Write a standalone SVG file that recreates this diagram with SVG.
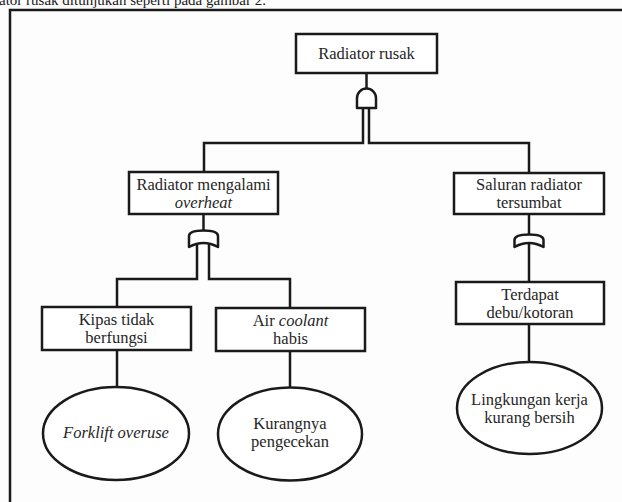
<svg xmlns="http://www.w3.org/2000/svg" width="622" height="502" viewBox="0 0 622 502">
<style>
  .bg{fill:#fdfdfd}
  .ln{fill:none;stroke:#1a1a1a;stroke-width:2.5}
  .box{fill:#ffffff;stroke:#1a1a1a;stroke-width:2.5}
  .gate{fill:#ffffff;stroke:#1a1a1a;stroke-width:2.5;stroke-linejoin:round}
  text{font-family:'Liberation Serif','Times New Roman',Times,'DejaVu Serif',serif}
  .t{font-size:16.5px;fill:#262626;text-anchor:middle}
  .i{font-style:italic}
  .doc{font-size:15px;fill:#1a1a1a}
</style>
<rect class="bg" x="0" y="0" width="622" height="502"/>
<text class="doc" x="-1" y="5" font-family="Liberation Serif, serif">ator rusak ditunjukan seperti pada gambar 2.</text>
<path class="ln" d="M10,502 V10 H622"/>

<g id="connectors">
  <path class="ln" d="M366.5,73 V90"/>
  <path class="ln" d="M363,107 V143 H204 V172"/>
  <path class="ln" d="M369,107 V143 H529 V173"/>
  <path class="ln" d="M203.5,214 V231"/>
  <path class="ln" d="M197,244 V279 H117 V307"/>
  <path class="ln" d="M209,244 V279 H290 V308"/>
  <path class="ln" d="M529,214 V235"/>
  <path class="ln" d="M529,244 V282"/>
  <path class="ln" d="M117,350 V387"/>
  <path class="ln" d="M290,351 V387"/>
  <path class="ln" d="M529,324 V362"/>
</g>

<g id="gate-and-top">
  <path class="gate" d="M357,108 V98 A9.5,9.5 0 0 1 376,98 V108 Z"/>
</g>
<g id="gate-or-left">
  <path class="gate" d="M189,247 V236 Q189,230.5 203.5,230.5 Q218,230.5 218,236 V247 Q203.5,239 189,247 Z"/>
</g>
<g id="gate-or-right">
  <path class="gate" d="M514.5,247 V240 Q514.5,234.5 529,234.5 Q543.5,234.5 543.5,240 V247 Q529,239 514.5,247 Z"/>
</g>

<g id="n-radiator-rusak">
  <rect class="box" x="296" y="34" width="141" height="39"/>
  <text class="t" x="366.5" y="59" font-family="Liberation Serif, serif">Radiator rusak</text>
</g>
<g id="n-overheat">
  <rect class="box" x="129" y="172" width="149" height="42"/>
  <text class="t" x="203.5" y="190" font-family="Liberation Serif, serif">Radiator mengalami</text>
  <text class="t i" x="203.5" y="208" font-family="Liberation Serif, serif">overheat</text>
</g>
<g id="n-saluran">
  <rect class="box" x="454" y="173" width="150" height="41"/>
  <text class="t" x="529" y="190" font-family="Liberation Serif, serif">Saluran radiator</text>
  <text class="t" x="529" y="208" font-family="Liberation Serif, serif">tersumbat</text>
</g>
<g id="n-terdapat">
  <rect class="box" x="456" y="282" width="148" height="42"/>
  <text class="t" x="530" y="300" font-family="Liberation Serif, serif">Terdapat</text>
  <text class="t" x="530" y="318" font-family="Liberation Serif, serif">debu/kotoran</text>
</g>
<g id="n-kipas">
  <rect class="box" x="42" y="307" width="149" height="43"/>
  <text class="t" x="116.5" y="325" font-family="Liberation Serif, serif">Kipas tidak</text>
  <text class="t" x="116.5" y="343" font-family="Liberation Serif, serif">berfungsi</text>
</g>
<g id="n-coolant">
  <rect class="box" x="216" y="308" width="149" height="43"/>
  <text class="t" x="290.5" y="326" font-family="Liberation Serif, serif">Air <tspan class="i">coolant</tspan></text>
  <text class="t" x="290.5" y="344" font-family="Liberation Serif, serif">habis</text>
</g>
<g id="n-forklift">
  <ellipse class="box" cx="116" cy="433.5" rx="73" ry="46.5"/>
  <text class="t i" x="116" y="438" font-family="Liberation Serif, serif">Forklift overuse</text>
</g>
<g id="n-pengecekan">
  <ellipse class="box" cx="290" cy="434" rx="72" ry="46.5"/>
  <text class="t" x="290" y="429" font-family="Liberation Serif, serif">Kurangnya</text>
  <text class="t" x="290" y="447" font-family="Liberation Serif, serif">pengecekan</text>
</g>
<g id="n-lingkungan">
  <ellipse class="box" cx="529.5" cy="408" rx="72.5" ry="46"/>
  <text class="t" x="529.5" y="405" font-family="Liberation Serif, serif">Lingkungan kerja</text>
  <text class="t" x="529.5" y="423" font-family="Liberation Serif, serif">kurang bersih</text>
</g>
</svg>
